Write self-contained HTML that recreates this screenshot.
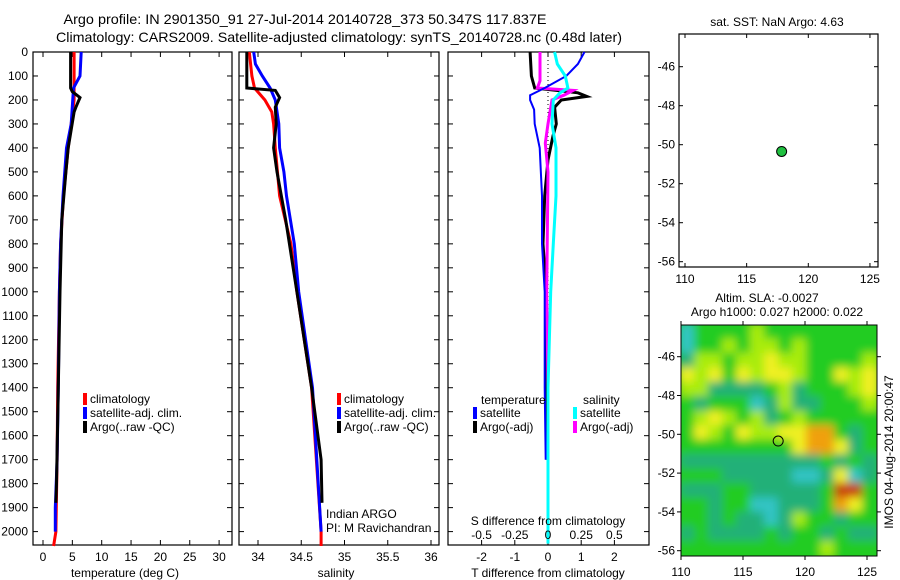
<!DOCTYPE html>
<html><head><meta charset="utf-8"><style>
body{margin:0;background:#fff;}
svg{display:block;font-family:"Liberation Sans",sans-serif;}
text{fill:#000;}
</style></head><body>
<svg id="chart" width="900" height="580" viewBox="0 0 900 580" xmlns="http://www.w3.org/2000/svg">
<defs><filter id="blur" filterUnits="userSpaceOnUse" x="670" y="315" width="220" height="250"><feGaussianBlur stdDeviation="4.5"/></filter>
<clipPath id="mapclip"><rect x="681" y="325" width="196" height="231"/></clipPath></defs>
<text x="305" y="24" font-size="14" text-anchor="middle" textLength="483" lengthAdjust="spacingAndGlyphs">Argo profile: IN 2901350_91 27-Jul-2014 20140728_373 50.347S 117.837E</text>
<text x="339" y="42" font-size="14" text-anchor="middle" textLength="566" lengthAdjust="spacingAndGlyphs">Climatology: CARS2009. Satellite-adjusted climatology: synTS_20140728.nc (0.48d later)</text>
<g id="g"></g>
</svg>
<script>
// ---- data ----
const depthTicks=[0,100,200,300,400,500,600,700,800,900,1000,1100,1200,1300,1400,1500,1600,1700,1800,1900,2000];
const tempTicks=[0,5,10,15,20,25,30];
const salTicks=[34,34.5,35,35.5,36];
const tdiffTicks=[-2,-1,0,1,2];
const sdiffTicks=[-0.5,-0.25,0,0.25,0.5];
const latTicks=[-46,-48,-50,-52,-54,-56];
const lonTicks=[110,115,120,125];

const tClimDepth=[0,100,200,300,400,600,800,1000,1400,1700,2000,2060];
const tClimVal=[5.3,5.3,5.3,4.8,4.3,3.5,3.0,2.8,2.5,2.4,2.2,1.8];
const tSatDepth=[0,100,150,300,400,600,800,1000,1400,1700,1900,2000];
const tSatVal=[6.5,6.3,5.2,4.8,4.0,3.4,3.0,2.8,2.6,2.4,2.1,2.1];
const tArgoDepth=[0,150,165,190,230,250,400,500,700,1000,1400,1800,1880];
const tArgoVal=[4.7,4.7,5.0,6.3,5.6,5.3,4.3,3.9,3.2,2.9,2.6,2.3,2.2];

const sClimDepth=[0,100,150,200,250,300,400,600,800,1000,1400,2000,2060];
const sClimVal=[33.9,33.93,33.96,34.08,34.16,34.18,34.2,34.25,34.38,34.45,34.62,34.73,34.73];
const sSatDepth=[0,50,100,150,200,300,400,500,600,800,1000,1400,2000];
const sSatVal=[33.95,33.97,34.05,34.14,34.2,34.24,34.25,34.3,34.33,34.42,34.47,34.63,34.73];
const sArgoDepth=[0,150,160,190,230,300,400,500,700,1000,1400,1700,1880];
const sArgoVal=[33.87,33.87,34.2,34.25,34.2,34.21,34.18,34.22,34.32,34.45,34.62,34.73,34.74];

const dTArgoDepth=[0,100,150,170,185,200,230,300,350,450,600,800,1000,1400,1700];
const dTArgoVal=[-0.54,-0.5,-0.4,0.9,1.17,0.4,0.2,0.25,0.15,0,-0.1,-0.15,-0.05,-0.03,-0.03];
const dSArgoDepth=[0,120,150,160,180,200,300,380,500,1000,1400];
const dSArgoVal=[-0.06,-0.06,-0.08,0.19,0.12,0.03,0,-0.02,0,-0.01,0];
const dTSatDepth=[0,50,100,150,180,200,240,300,400,600,800,1000,1400,1700];
const dTSatVal=[1.1,0.9,0.55,-0.1,-0.54,-0.54,-0.42,-0.4,-0.25,-0.18,-0.18,-0.1,-0.1,-0.07];
const dSSatDepth=[0,50,100,150,170,200,300,400,600,800,1000,1400,2000,2050];
const dSSatVal=[0.05,0.07,0.13,0.15,0.09,0.04,0.03,0.06,0.06,0.04,0.02,0,0,0];

const argoLon=[117.837];
const argoLat=[-50.347];

const slaGrid=[
"02222322222222",
"02232332322222",
"13323343322223",
"43424344322434",
"33111123122234",
"21222013112223",
"23432312322222",
"24324334455212",
"22222222455412",
"11111111112121",
"22211111001401",
"11122111112662",
"22122001112542",
"22121101322122",
"12111121221211",
"22222222223222"];
const slaColors=["#30c4c4","#20b078","#22cc22","#a8ec10","#f0f020","#f0a010","#c83c10"];

// ---- helpers ----
const NS="http://www.w3.org/2000/svg";
const G=document.getElementById('g');
function mk(tag,attrs,parent){const e=document.createElementNS(NS,tag);for(const k in attrs)e.setAttribute(k,attrs[k]);(parent||G).appendChild(e);return e;}
function txt(s,x,y,attrs){const e=mk('text',Object.assign({x:x,y:y,'font-size':12},attrs||{}));e.textContent=s;return e;}

const yTop=52,yBot=545;
const yD=d=>52+d*0.2398;

function panel(name,x0,x1,xf,ticks,fmt){
  const r=mk('rect',{x:x0,y:yTop,width:x1-x0,height:yBot-yTop,fill:'none',stroke:'#000','stroke-width':1.2});
  
  
  depthTicks.forEach(d=>{mk('line',{x1:x0,x2:x0+5,y1:yD(d),y2:yD(d),stroke:'#000'});mk('line',{x1:x1,x2:x1-5,y1:yD(d),y2:yD(d),stroke:'#000'});});
  ticks.forEach(v=>{const x=xf(v);mk('line',{x1:x,x2:x,y1:yBot,y2:yBot-5,stroke:'#000'});mk('line',{x1:x,x2:x,y1:yTop,y2:yTop+5,stroke:'#000'});
    if(fmt){const t=txt(fmt(v),x,561,{'text-anchor':'middle'});}});
}
function line(name,xs,ds,xf,color,w){
  const pts=xs.map((v,i)=>xf(v).toFixed(1)+','+yD(ds[i]).toFixed(1)).join(' ');
  const p=mk('polyline',{points:pts,fill:'none',stroke:color,'stroke-width':w||3,'stroke-linejoin':'miter'});
  
  
}
function legend(name,x,y,color,label){
  mk('rect',{x:x,y:y-10,width:4,height:12,fill:color});
  const t=txt(label,x+7,y);
  
  
}

// depth labels
depthTicks.forEach(d=>{const t=txt(String(d),28,yD(d)+4,{'text-anchor':'end'});});

// panel 1 temperature
const xT=v=>43+v*5.87;
panel('temperature-panel',33,232,xT,tempTicks,v=>String(v));
line('temp-climatology',tClimVal,tClimDepth,xT,'#f00');
line('temp-satellite-adj',tSatVal,tSatDepth,xT,'#00f');
line('temp-argo',tArgoVal,tArgoDepth,xT,'#000');
txt('temperature (deg C)',125,577,{'text-anchor':'middle'});
legend('legend-climatology',83,403,'#f00','climatology');
legend('legend-satellite-adj',83,417,'#00f','satellite-adj. clim.');
legend('legend-argo',83,431,'#000','Argo(..raw -QC)');

// panel 2 salinity
const xS=v=>258+(v-34)*86.5;
panel('salinity-panel',239,439,xS,salTicks,v=>String(v));
line('sal-climatology',sClimVal,sClimDepth,xS,'#f00');
line('sal-satellite-adj',sSatVal,sSatDepth,xS,'#00f');
line('sal-argo',sArgoVal,sArgoDepth,xS,'#000');
txt('salinity',336,577,{'text-anchor':'middle'});
legend('legend-climatology-2',337,403,'#f00','climatology');
legend('legend-satellite-adj-2',337,417,'#00f','satellite-adj. clim.');
legend('legend-argo-2',337,431,'#000','Argo(..raw -QC)');
txt('Indian ARGO',326,518);
txt('PI: M Ravichandran',326,532);

// panel 3 differences
const xdT=v=>548+v*33.2;
const xdS=v=>548+v*132.8;
panel('difference-panel',448,649,xdT,tdiffTicks,v=>String(v));
mk('line',{x1:548,x2:548,y1:yTop,y2:yBot,stroke:'#000','stroke-dasharray':'1,3'});
line('diff-t-argo',dTArgoVal,dTArgoDepth,xdT,'#000');
line('diff-s-argo',dSArgoVal,dSArgoDepth,xdS,'#f0f');
line('diff-t-satellite',dTSatVal,dTSatDepth,xdT,'#00f',2);
line('diff-s-satellite',dSSatVal,dSSatDepth,xdS,'#0ff');
sdiffTicks.forEach(v=>{const t=txt(String(v),xdS(v),539,{'text-anchor':'middle'});});
txt('S difference from climatology',548,525,{'text-anchor':'middle'});
txt('T difference from climatology',548,577,{'text-anchor':'middle'});
txt('temperature',481,404);
txt('salinity',583,404);
legend('legend-t-satellite',473,417,'#00f','satellite');
legend('legend-t-argo',473,431,'#000','Argo(-adj)');
legend('legend-s-satellite',573,417,'#0ff','satellite');
legend('legend-s-argo',573,431,'#f0f','Argo(-adj)');

// top map
const lonA=v=>685+(v-110)*12.33, latA=v=>66.7+(-46-v)*19.5;
const m1=mk('rect',{x:679,y:34,width:199,height:233,fill:'#fff',stroke:'#000','stroke-width':1.2});


txt('sat. SST: NaN Argo: 4.63',777,26,{'text-anchor':'middle'});
latTicks.forEach(v=>{const y=latA(v);mk('line',{x1:679,x2:683,y1:y,y2:y,stroke:'#000'});mk('line',{x1:878,x2:874,y1:y,y2:y,stroke:'#000'});
  const t=txt(String(v),675,y+4,{'text-anchor':'end'});});
lonTicks.forEach(v=>{const x=lonA(v);mk('line',{x1:x,x2:x,y1:267,y2:263,stroke:'#000'});mk('line',{x1:x,x2:x,y1:34,y2:38,stroke:'#000'});
  const t=txt(String(v),x,283,{'text-anchor':'middle'});});
argoLon.forEach((lo,i)=>{const c=mk('circle',{cx:lonA(lo),cy:latA(argoLat[i]),r:5,fill:'#20c040',stroke:'#000'});
  
  });

// bottom map
const lonB=v=>681+(v-110)*12.4, latB=v=>356.7+(-46-v)*19.4;
txt('Altim. SLA: -0.0027',767,302,{'text-anchor':'middle'});
txt('Argo h1000: 0.027 h2000: 0.022',777,316,{'text-anchor':'middle'});
const hg=mk('g',{'clip-path':'url(#mapclip)'});
const hb=mk('g',{filter:'url(#blur)'},hg);
const nr=slaGrid.length,nc=slaGrid[0].length,cw=196/nc,ch=231/nr;
mk('rect',{x:671,y:315,width:216,height:251,fill:slaColors[2]},hb);
slaGrid.forEach((row,r)=>{for(let c=0;c<nc;c++){const cell=mk('rect',{x:681+c*cw-1,y:325+r*ch-1,width:cw+2,height:ch+2,fill:slaColors[+row[c]]},hb);
  
  }});
const m2=mk('rect',{x:681,y:325,width:196,height:231,fill:'none',stroke:'#000','stroke-width':1});


latTicks.forEach(v=>{const y=latB(v);mk('line',{x1:681,x2:677,y1:y,y2:y,stroke:'#000'});mk('line',{x1:877,x2:881,y1:y,y2:y,stroke:'#000'});
  const t=txt(String(v),675,y+4,{'text-anchor':'end'});});
lonTicks.forEach(v=>{const x=lonB(v);mk('line',{x1:x,x2:x,y1:556,y2:560,stroke:'#000'});mk('line',{x1:x,x2:x,y1:325,y2:321,stroke:'#000'});
  const t=txt(String(v),x,576,{'text-anchor':'middle'});});
argoLon.forEach((lo,i)=>{const c=mk('circle',{cx:lonB(lo),cy:latB(argoLat[i]),r:5,fill:'none',stroke:'#000'});
  
  });
const st=txt('IMOS 04-Aug-2014 20:00:47',0,0,{'text-anchor':'middle',transform:'translate(893,452) rotate(-90)'});


</script>
</body></html>
